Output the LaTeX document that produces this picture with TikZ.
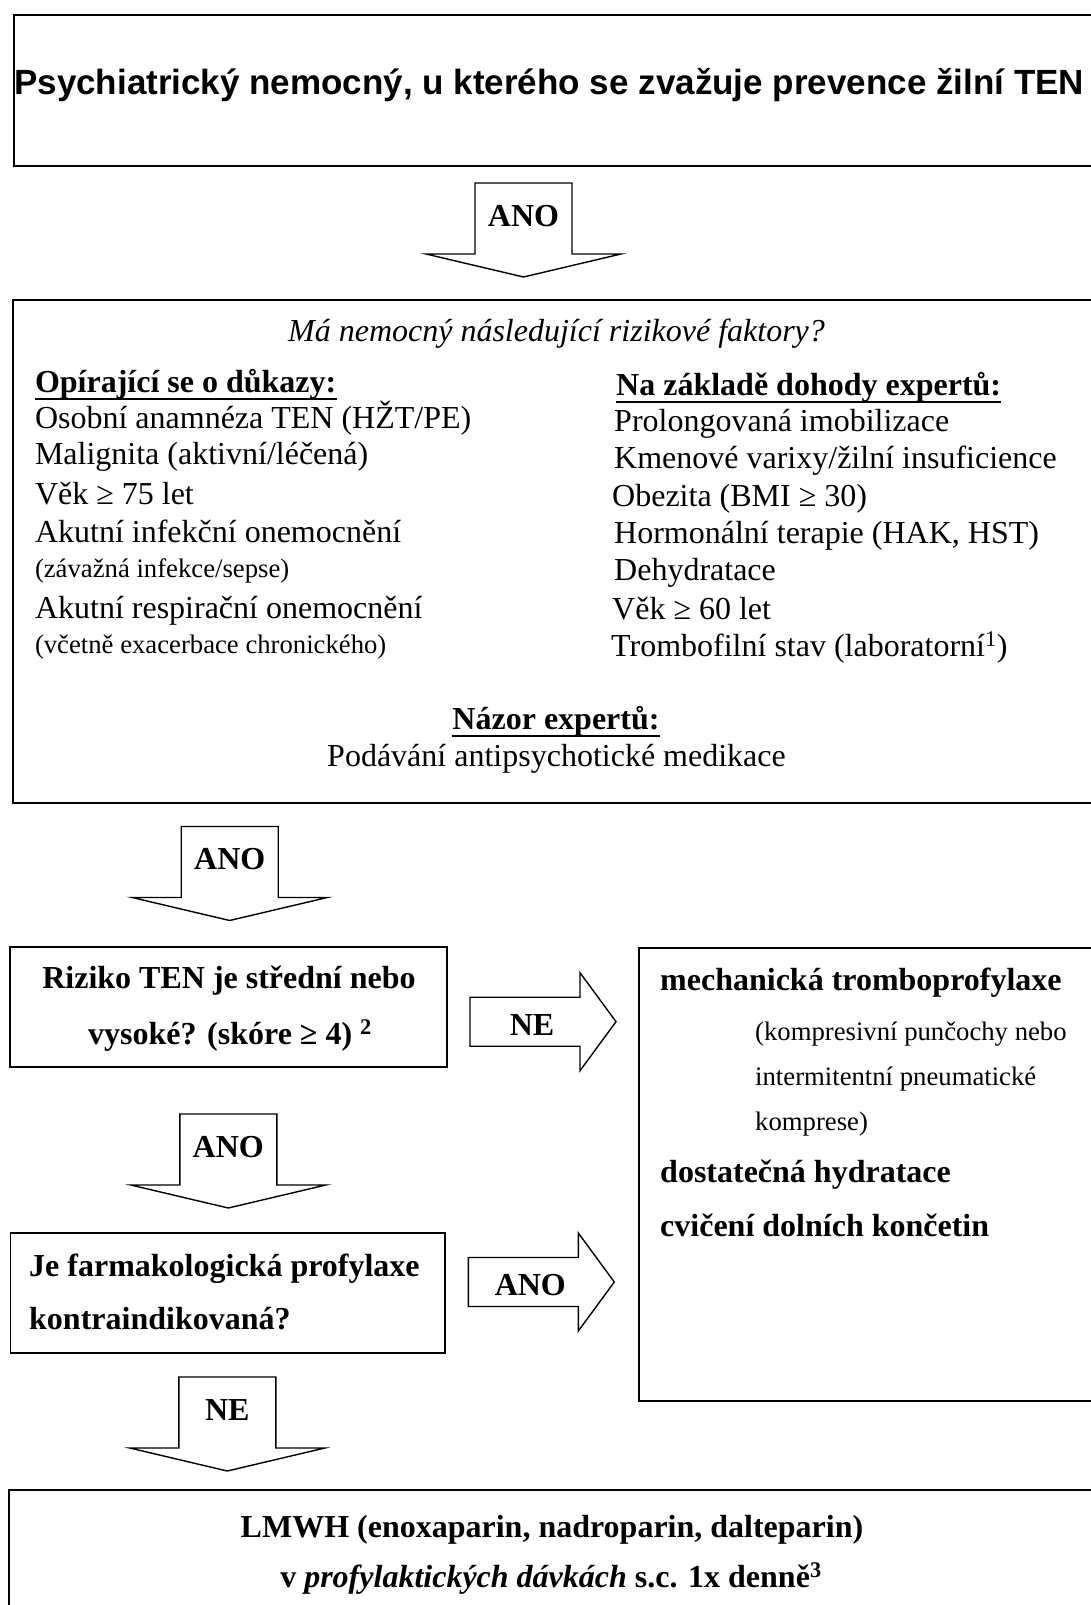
\documentclass[tikz,border=0pt]{standalone}
\usepackage{fontspec}
\setmainfont{Liberation Serif}
\newfontfamily\headfont{Liberation Sans}
\usetikzlibrary{positioning}

\tikzset{
  box/.style={draw, line width=1.8pt},
  blockarrow/.style={draw, line width=1.4pt, line join=miter},
  txt/.style={inner sep=0pt, anchor=base west, font=\fontsize{32}{37}\selectfont},
  ctxt/.style={txt, anchor=base},
  small/.style={txt, font=\fontsize{26.7}{31}\selectfont},
  bold/.style={txt, font=\fontsize{32}{37}\selectfont\bfseries},
  lbl/.style={inner sep=0pt, font=\fontsize{32}{37}\selectfont\bfseries}
}

\begin{document}
\begin{tikzpicture}[x=1pt, y=-1pt]
  \useasboundingbox (0,0) rectangle (1091,1605);

  % boxes (open to the right / bottom, as cut in the scan)
  \draw[box] (1100,15.4) -- (14,15.4) -- (14,166) -- (1100,166);
  \draw[box] (1100,300) -- (13,300) -- (13,803) -- (1100,803);
  \draw[box] (10.3,946.7) rectangle (446.8,1066.7);
  \draw[box] (10.4,1233.3) rectangle (445,1353);
  \draw[box] (1100,948) -- (639,948) -- (639,1401) -- (1100,1401);
  \draw[box] (1100,1490) -- (9,1490) -- (9,1620);

  % start
  \node[txt, font=\headfont\bfseries\fontsize{35}{40}\selectfont] (start) at (14,94.5)
    {Psychiatrický nemocný, u kterého se zvažuje prevence žilní TEN};

  % risk factors
  \node[ctxt, font=\fontsize{32}{37}\selectfont\itshape] (question) at (556.5,341)
    {Má nemocný následující rizikové faktory?};

  \node[bold] (evid) at (34.8,392) {Opírající se o důkazy:};
  \node[txt] (ev1) at (34.8,428) {Osobní anamnéza TEN (HŽT/PE)};
  \node[txt] (ev2) at (34.8,464.5) {Malignita (aktivní/léčená)};
  \node[txt] (ev3) at (34.8,504) {Věk ≥ 75 let};
  \node[txt] (ev4) at (34.8,542) {Akutní infekční onemocnění};
  \node[small] (ev4b) at (34.8,577.5) {(závažná infekce/sepse)};
  \node[txt] (ev5) at (34.8,618.5) {Akutní respirační onemocnění};
  \node[small] (ev5b) at (34.8,653) {(včetně exacerbace chronického)};

  \node[bold] (cons) at (616,395) {Na základě dohody expertů:};
  \node[txt] (co1) at (614,431) {Prolongovaná imobilizace};
  \node[txt] (co2) at (614,468) {Kmenové varixy/žilní insuficience};
  \node[txt] (co3) at (612,506) {Obezita (BMI ≥ 30)};
  \node[txt] (co4) at (614,543.5) {Hormonální terapie (HAK, HST)};
  \node[txt] (co5) at (614,580.5) {Dehydratace};
  \node[txt] (co6) at (612,619) {Věk ≥ 60 let};
  \node[txt] (co7) at (611,656) {Trombofilní stav (laboratorní\textsuperscript{1})};

  \node[ctxt, font=\fontsize{32}{37}\selectfont\bfseries] (opin) at (556,729) {Názor expertů:};
  \node[ctxt] (op1) at (556.5,766) {Podávání antipsychotické medikace};

  \foreach \n in {evid, cons, opin}
    \draw[line width=1.6pt] ([yshift=-7pt]\n.base west) -- ([yshift=-7pt]\n.base east);

  % questions
  \node[ctxt, font=\fontsize{32}{37}\selectfont\bfseries] (risk) at (229,988) {Riziko TEN je střední nebo};
  \node[ctxt, font=\fontsize{32}{37}\selectfont\bfseries] (risk2) at (230,1044) {vysoké? (skóre ≥ 4) \textsuperscript{2}};
  \node[bold] (contra) at (29,1276) {Je farmakologická profylaxe};
  \node[bold] (contra2) at (29,1329) {kontraindikovaná?};

  % mechanical measures
  \node[bold] (mech) at (660,990) {mechanická tromboprofylaxe};
  \node[small] (mech1) at (755,1040) {(kompresivní punčochy nebo};
  \node[small] (mech2) at (755,1085) {intermitentní pneumatické};
  \node[small] (mech3) at (755,1130) {komprese)};
  \node[bold] (hydr) at (660,1182) {dostatečná hydratace};
  \node[bold] (exer) at (660,1236) {cvičení dolních končetin};

  % LMWH
  \node[ctxt, font=\fontsize{32}{37}\selectfont\bfseries] (lmwh) at (552,1537)
    {LMWH (enoxaparin, nadroparin, dalteparin)};
  \node[ctxt, font=\fontsize{32}{37}\selectfont\bfseries] (dose) at (551,1587)
    {v \textit{profylaktických dávkách} s.c. 1x denně\textsuperscript{3}};

  % block arrows down
  \foreach \n/\x/\y/\t in {a1/523.5/183/ANO, a2/229.7/826.5/ANO, a3/228.3/1114/ANO, a4/227.3/1377/NE}{
    \draw[blockarrow] (\x-48.5,\y) -- (\x+48.5,\y) -- (\x+48.5,\y+71) -- (\x+97.5,\y+71)
      -- (\x,\y+94) -- (\x-97.5,\y+71) -- (\x-48.5,\y+71) -- cycle;
    \node[lbl] (\n) at (\x,\y+33) {\t};
  }
  % block arrows right
  \foreach \n/\x/\y/\t in {r1/470/1021.7/NE, r2/468.3/1282/ANO}{
    \draw[blockarrow] (\x,\y-24.5) -- (\x+110,\y-24.5) -- (\x+110,\y-49) -- (\x+146,\y)
      -- (\x+110,\y+49) -- (\x+110,\y+24.5) -- (\x,\y+24.5) -- cycle;
    \node[lbl] (\n) at (\x+62,\y+3) {\t};
  }
\end{tikzpicture}
\end{document}
